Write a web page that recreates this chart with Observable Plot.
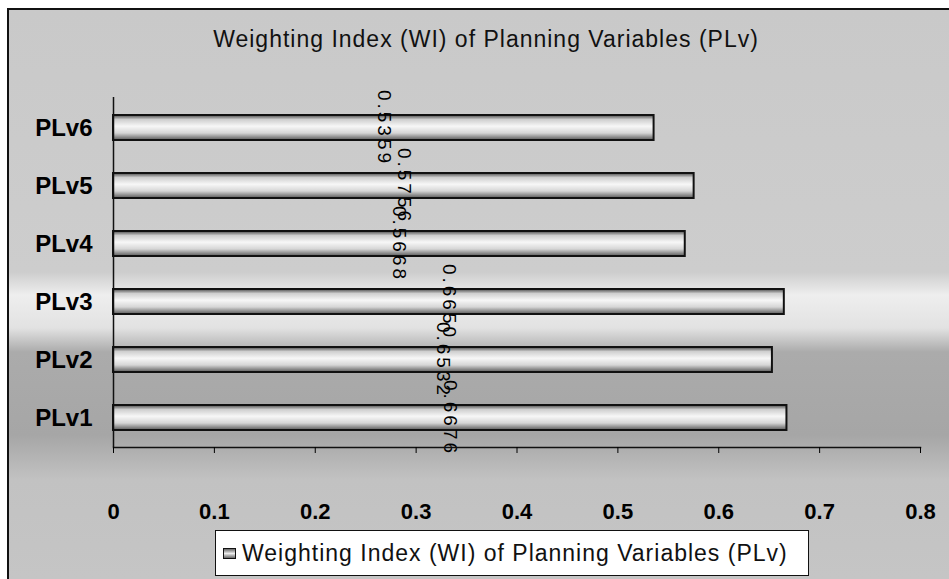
<!DOCTYPE html>
<html>
<head>
<meta charset="utf-8">
<script src="https://cdn.jsdelivr.net/npm/d3@7"></script>
<script src="https://cdn.jsdelivr.net/npm/@observablehq/plot@0.6"></script>
<style>
  body { margin: 0; background: #fff; }
  #wrap { position: relative; width: 949px; height: 579px; overflow: hidden;
          font-family: "Liberation Sans", Arial, sans-serif; }
  #bg { position: absolute; left: 7px; top: 8px; width: 960px; height: 600px;
        border-left: 2px solid #111; border-top: 2px solid #111;
        background: linear-gradient(to bottom, #c9c9c9 0px, #cdcdcd 262px, #eeeeee 285px, #e2e2e2 318px,
                    #ababab 342px, #a6a6a6 425px, #c2c2c2 470px, #c6c6c6 600px); }
  #title { position: absolute; left: 0; top: 28px; width: 972px; text-align: center;
           font-size: 23px; letter-spacing: 1px; line-height: 1; color: #111; }
  #legend { position: absolute; left: 215px; top: 530px; width: 594px; height: 46px;
            box-sizing: border-box; border: 1.5px solid #111; background: #fff;
            font-size: 23px; letter-spacing: 1px; line-height: 1; color: #111;
            display: flex; align-items: center; }
  #legend .key { display: inline-block; width: 11px; height: 9px; margin: 0 6px 0 7px;
                 border: 1.5px solid #111; background: linear-gradient(#666, #eee 50%, #666); }
  #chart { position: absolute; left: 0; top: 0; }
</style>
</head>
<body>
<div id="wrap">
  <div id="bg"></div>
  <div id="title"></div>
  <div id="chart"></div>
  <div id="legend"><span class="key"></span><span id="legendText"></span></div>
</div>
<script>
const chartTitle = "Weighting Index (WI) of Planning Variables (PLv)";
const seriesName = "Weighting Index (WI) of Planning Variables (PLv)";
const categories = ["PLv1", "PLv2", "PLv3", "PLv4", "PLv5", "PLv6"];
const values = [0.6676, 0.6532, 0.6650, 0.5668, 0.5756, 0.5359];
const xTicks = [0, 0.1, 0.2, 0.3, 0.4, 0.5, 0.6, 0.7, 0.8];
const xTickLabels = ["0", "0.1", "0.2", "0.3", "0.4", "0.5", "0.6", "0.7", "0.8"];

const data = categories.map((c, i) => ({ cat: c, value: values[i] }));

document.getElementById("title").textContent = chartTitle;
document.getElementById("legendText").textContent = seriesName;

const font = "Liberation Sans, Arial, sans-serif";
const plot = Plot.plot({
  width: 949,
  height: 579,
  marginLeft: 113,
  marginRight: 29,
  marginTop: 97,
  marginBottom: 132,
  style: { background: "transparent", fontFamily: font, color: "#000", overflow: "visible" },
  x: { domain: [0, 0.8] },
  y: { domain: categories.slice().reverse(), paddingInner: 0.57, paddingOuter: 0.3 },
  marks: [
    Plot.barX(data, { x: "value", y: "cat", fill: "url(#barGrad)", stroke: "#111", strokeWidth: 2 }),
    Plot.text(data, {
      x: d => d.value / 2, y: "cat", text: d => d.value.toFixed(4),
      rotate: 90, fontSize: 19, fill: "#000"
    }),
    Plot.ruleX([0], { stroke: "#111", strokeWidth: 1.5 }),
    Plot.frame({ anchor: "bottom", stroke: "#111", strokeWidth: 1.5 }),
    Plot.axisX({
      ticks: xTicks, tickFormat: d => xTickLabels[xTicks.indexOf(d)],
      tickSize: 6, tickPadding: 50, fontSize: 22, fontWeight: "bold", label: null
    }),
    Plot.axisY({ tickSize: 0, tickPadding: 21, fontSize: 24, fontWeight: "bold", label: null })
  ]
});

const svg = d3.select(plot);
const defs = svg.insert("defs", ":first-child");
const g = defs.append("linearGradient").attr("id", "barGrad")
  .attr("x1", 0).attr("y1", 0).attr("x2", 0).attr("y2", 1);
[[0, "#4a4a4a"], [0.18, "#cfcfcf"], [0.45, "#f7f7f7"], [0.72, "#d6d6d6"], [1, "#5a5a5a"]]
  .forEach(([o, c]) => g.append("stop").attr("offset", o).attr("stop-color", c));
svg.selectAll('g[aria-label="text"] text').attr("letter-spacing", 3);

document.getElementById("chart").appendChild(plot);
</script>
</body>
</html>
